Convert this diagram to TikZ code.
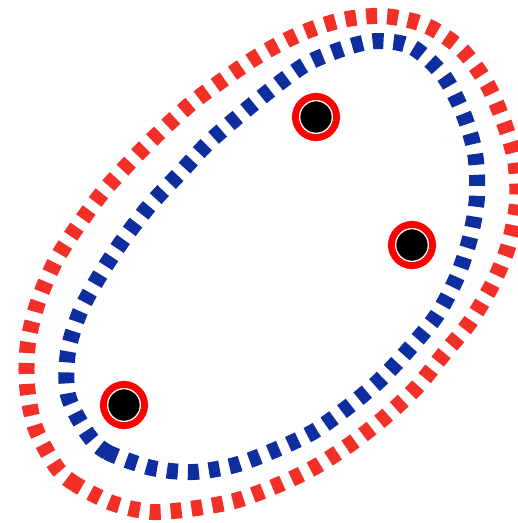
\documentclass[tikz,border=0pt]{standalone}
\definecolor{curvered}{RGB}{242,48,40}
\definecolor{curveblue}{RGB}{14,46,160}
\tikzset{
  loopline/.style={line width=16pt, dash pattern=on 11pt off 10pt},
  pt/.style={circle, inner sep=0pt, minimum size=32.7pt, fill=black, draw=white, line width=1.3pt,
    preaction={draw=red, line width=15.3pt}}
}
\begin{document}
\begin{tikzpicture}[x=1pt,y=-1pt]
\useasboundingbox (0,0) rectangle (518,523);
\clip (0,0) rectangle (518,523);
\draw[loopline, curvered] plot[smooth cycle] coordinates {
(55,465) (72,482) (112,503) (153,512) (197,508) (238,500) (278,485) (315,467) (352,443) (385,417) (417,387) (443,355) (470,322) (492,285) (508,247) (517,203) (515,160) (503,120) (486,82) (460,48) (425,25) (383,16) (342,20) (302,33) (263,53) (227,77) (193,102) (162,130) (132,160) (103,192) (77,227) (55,262) (38,302) (28,343) (27,385) (35,427)};
\draw[loopline, curveblue] plot[smooth cycle] coordinates {
(87,433) (107,452) (152,468) (193,472) (235,465) (275,450) (313,432) (348,407) (380,380) (410,348) (437,315) (457,277) (470,238) (477,197) (475,153) (463,113) (443,75) (412,47) (378,41) (348,47) (308,63) (273,88) (240,115) (208,143) (180,173) (150,205) (123,240) (100,275) (80,312) (68,352) (68,395)};
\node[pt] (a) at (316,117) {};
\node[pt] (b) at (412,245) {};
\node[pt] (c) at (124,405) {};
\end{tikzpicture}
\end{document}
